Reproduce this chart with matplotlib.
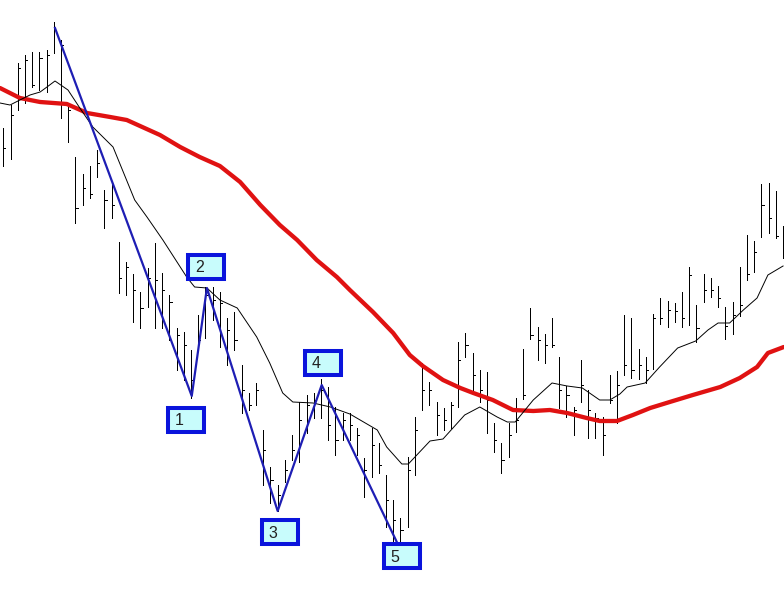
import numpy as np
import matplotlib
matplotlib.use("Agg")
import matplotlib.pyplot as plt
from matplotlib.patches import Rectangle

# price bars (one per session)
highs = [472, 495, 537, 545, 548, 548, 550, 578, 560, 493,
         443, 426, 434, 450, 410, 418, 358, 338, 326, 308,
         332, 357, 327, 305, 272, 268, 250, 285, 313, 313,
         308, 282, 288, 235, 207, 217, 170, 133, 115, 140,
         165, 198, 205, 207, 221, 213, 193, 187, 187, 172,
         142, 172, 157, 125, 100, 82, 143, 183, 237, 218,
         198, 192, 198, 258, 267, 247, 230, 228, 177, 157,
         177, 202, 251, 292, 273, 266, 282, 243, 214, 193,
         240, 210, 187, 183, 225, 229, 285, 282, 251, 243,
         286, 302, 299, 297, 308, 333, 295, 326, 322, 314,
         293, 298, 333, 365, 359, 416, 417, 409, 374]
lows = [434, 441, 490, 497, 513, 510, 508, 547, 482, 458,
        377, 395, 402, 423, 372, 382, 307, 305, 278, 272,
        293, 272, 272, 260, 230, 220, 202, 252, 262, 280,
        253, 235, 250, 187, 190, 195, 115, 97, 89, 118,
        140, 138, 167, 182, 182, 160, 145, 160, 160, 145,
        103, 123, 127, 73, 53, 53, 73, 125, 190, 195,
        165, 170, 172, 193, 243, 208, 198, 167, 148, 127,
        143, 168, 201, 261, 240, 237, 253, 192, 183, 165,
        198, 162, 162, 145, 197, 177, 225, 222, 221, 217,
        231, 276, 273, 278, 273, 275, 258, 298, 303, 293,
        261, 266, 284, 320, 328, 363, 367, 362, 342]
closes = [452, 485, 532, 540, 515, 542, 545, 570, 555, 490,
          392, 412, 406, 437, 400, 395, 322, 333, 310, 292,
          322, 320, 310, 298, 265, 255, 220, 260, 305, 300,
          297, 270, 260, 210, 195, 210, 150, 120, 105, 130,
          150, 180, 195, 200, 210, 175, 160, 180, 175, 165,
          130, 155, 135, 100, 80, 70, 130, 170, 210, 210,
          185, 180, 195, 240, 255, 225, 210, 200, 160, 140,
          165, 180, 205, 265, 260, 255, 255, 210, 205, 190,
          215, 190, 182, 165, 200, 215, 235, 230, 235, 230,
          282, 282, 290, 289, 282, 325, 272, 310, 310, 302,
          274, 285, 295, 326, 348, 395, 382, 364, 365]

# fast moving average (thin black)
fast_x = [-0.46, 0.93, 2.3, 3.7, 5.1, 6.05, 7.16, 8.96, 10.6, 12.4, 15.2, 18.2,
          19.9, 22.1, 25.4, 26.5, 28.2, 30.0, 32.4, 35.1, 36.9, 38.7, 40.1, 42.9,
          45.3, 48.0, 51.8, 53.1, 55.2, 56.1, 59.1, 60.9, 63.9, 66.0, 68.4, 69.8,
          70.9, 73.4, 76.0, 78.1, 80.2, 82.6, 84.0, 85.4, 86.4, 88.9, 90.9, 93.4,
          95.9, 97.6, 99.0, 100.6, 102.5, 104.4, 105.9, 108.0]
fast_y = [497, 495, 500, 505, 508, 513, 519, 510, 492, 473, 453, 400,
          383, 360, 323, 313, 312, 300, 292, 263, 237, 207, 198, 197,
          193, 186, 170, 153, 136, 136, 159, 161, 185, 193, 183, 178,
          178, 200, 217, 214, 212, 200, 200, 206, 213, 217, 233, 252,
          259, 270, 277, 277, 290, 302, 325, 334]

# slow moving average (thick red)
slow_x = [-0.46, 2.3, 5.1, 8.8, 11.6, 14.8, 17.1, 21.7, 24.5, 27.2, 30.0, 32.8,
          35.6, 38.3, 40.7, 43.4, 46.2, 48.0, 51.2, 54.0, 56.3, 58.1, 60.9, 63.3,
          65.1, 67.8, 70.6, 73.4, 75.7, 78.1, 80.8, 82.6, 85.0, 87.2, 89.6, 92.3,
          95.5, 99.3, 102.0, 104.4, 105.9, 108.1]
slow_y = [512, 502, 498, 496, 487, 483, 480, 465, 453, 443, 434, 418,
          395, 375, 360, 340, 323, 310, 288, 267, 245, 234, 220, 212,
          207, 200, 190, 189, 190, 187, 182, 179, 179, 185, 192, 198,
          205, 213, 222, 233, 247, 253]

# elliott wave pivots
wave_x = [7.16, 26.1, 28.2, 38.0, 44.1, 54.7]
wave_y = [572, 204, 312, 89, 215, 55]
wave_labels = ["1", "2", "3", "4", "5"]
# label box centres
box_x = [25.3, 28.1, 38.3, 44.3, 55.2]
box_y = [180.5, 333, 68, 237.5, 44]

fig = plt.figure(figsize=(7.84, 5.92), dpi=100)
ax = fig.add_axes([0, 0, 1, 1])
ax.set_xlim(-0.457, 108.13)
ax.set_ylim(8, 600)
ax.axis("off")

idx = np.arange(len(highs))
ax.vlines(idx, lows, highs, color="black", lw=0.72, antialiased=False)
ax.hlines(closes, idx, idx + 0.3, color="black", lw=0.72, antialiased=False)

ax.plot(slow_x, slow_y, color="#e01212", lw=3.1, solid_capstyle="round",
        solid_joinstyle="round")
ax.plot(fast_x, fast_y, color="black", lw=0.7)
ax.plot(wave_x, wave_y, color="#1e1eb4", lw=1.6)

px = 1 / 7.22  # one pixel in bar units
for lab, bx, by in zip(wave_labels, box_x, box_y):
    w, h = 36 * px, 24
    ax.add_patch(Rectangle((bx - w / 2, by - h / 2), w, h, facecolor="#c8fcfc",
                           edgecolor="#0a14dc", lw=2.9, zorder=5))
    ax.text(bx - 7 * px, by - 1, lab, ha="center", va="center", fontsize=11.5,
            family="Liberation Sans", color="#222222", zorder=6)

fig.savefig("out.png", dpi=100, facecolor="white")
